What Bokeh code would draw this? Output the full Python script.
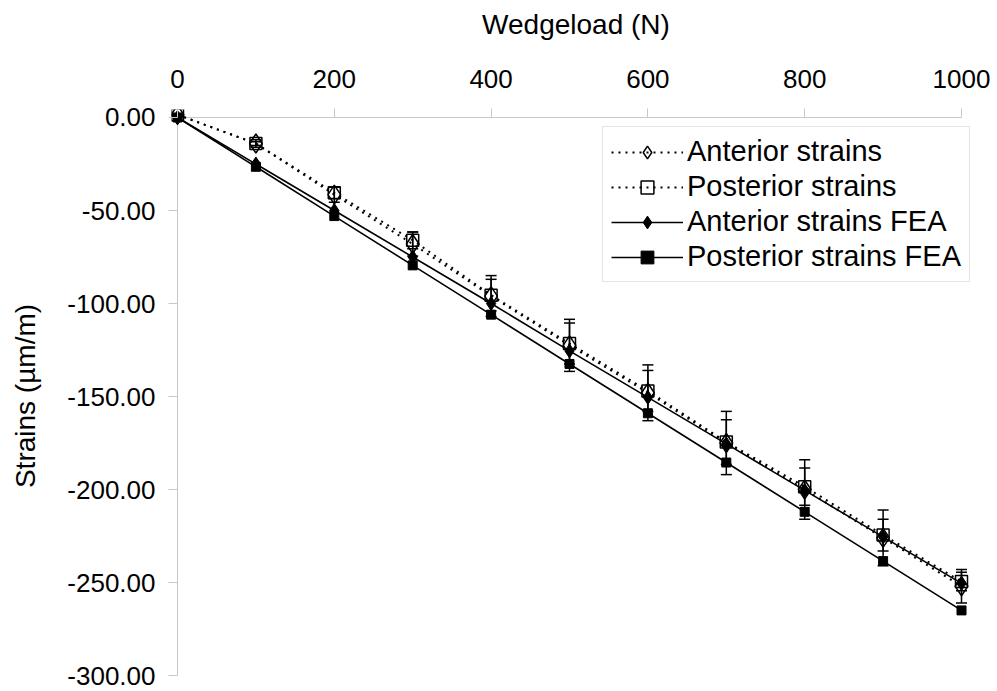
from bokeh.plotting import figure
from bokeh.models import (Range1d, FixedTicker, NumeralTickFormatter, Legend,
                          LegendItem, Whisker, ColumnDataSource, TeeHead)
from bokeh.embed import file_html
from bokeh.resources import INLINE

# ---- data ----
load = [0, 100, 200, 300, 400, 500, 600, 700, 800, 900, 1000]
anterior = [1.5, -14, -41.5, -68, -96, -122.5, -148, -175, -200, -226, -252]
posterior = [1.5, -14, -40.5, -66, -95.5, -121.5, -147, -174.5, -198.5, -224.5, -249.5]
anterior_err = [0, 2, 4, 6.5, 11, 14, 15, 17, 16, 15, 9]
posterior_err = [0, 1, 3, 4.5, 8.5, 11, 11, 12, 10, 8.5, 5]
anterior_fea = [0, -25, -50, -75, -100, -125.5, -150.5, -175.5, -200.5, -225.5, -250.5]
posterior_fea = [0, -26.5, -53, -79.5, -106, -132.5, -159, -185.5, -212, -238.5, -265]
x_ticks = [0, 200, 400, 600, 800, 1000]
y_ticks = [0, -50, -100, -150, -200, -250, -300]

FONT = "Liberation Sans"
AXIS_GRAY = "#c8c8c8"

# ranges are padded a little so that the markers at the ends are not clipped
p = figure(width=997, height=691, output_backend="svg", toolbar_location=None,
           x_axis_location="above",
           x_range=Range1d(-7.653, 1024.23), y_range=Range1d(-303.763, 4.301),
           min_border_left=171, min_border_right=17,
           min_border_top=109, min_border_bottom=9)
p.outline_line_color = None
p.grid.visible = False

# axis lines drawn at the data origin (x = 0 and y = 0)
p.segment(x0=[x_ticks[0]], y0=[y_ticks[0]], x1=[x_ticks[0]], y1=[y_ticks[-1]],
          line_color=AXIS_GRAY, line_width=1)
p.segment(x0=[x_ticks[0]], y0=[y_ticks[0]], x1=[x_ticks[-1]], y1=[y_ticks[0]],
          line_color=AXIS_GRAY, line_width=1)

for ax in (p.xaxis[0], p.yaxis[0]):
    ax.axis_line_color = None
    ax.major_tick_line_color = AXIS_GRAY
    ax.minor_tick_line_color = None
    ax.major_label_text_font = FONT
    ax.major_label_text_font_size = "26px"
    ax.major_label_text_color = "black"
    ax.axis_label_text_font = FONT
    ax.axis_label_text_font_size = "28px"
    ax.axis_label_text_font_style = "normal"
    ax.axis_label_text_color = "black"

p.xaxis.ticker = FixedTicker(ticks=x_ticks)
p.xaxis.axis_label = "Wedgeload (N)"
p.xaxis.major_tick_out = 1
p.xaxis.major_tick_in = 8
p.xaxis.major_label_standoff = 21
p.xaxis.axis_label_standoff = 27

p.yaxis.ticker = FixedTicker(ticks=y_ticks)
p.yaxis.formatter = NumeralTickFormatter(format="0.00")
p.yaxis.axis_label = "Strains (µm/m)"
p.yaxis.major_tick_out = 3
p.yaxis.major_tick_in = 6
p.yaxis.major_label_standoff = 13
p.yaxis.axis_label_standoff = 23

# error bars
src_a = ColumnDataSource(dict(x=load,
                              upper=[v + e for v, e in zip(anterior, anterior_err)],
                              lower=[v - e for v, e in zip(anterior, anterior_err)]))
src_p = ColumnDataSource(dict(x=load,
                              upper=[v + e for v, e in zip(posterior, posterior_err)],
                              lower=[v - e for v, e in zip(posterior, posterior_err)]))
for src in (src_a, src_p):
    w = Whisker(source=src, base="x", upper="upper", lower="lower", dimension="height",
                line_color="black", line_width=1.5,
                upper_head=TeeHead(size=11, line_color="black", line_width=1.5),
                lower_head=TeeHead(size=11, line_color="black", line_width=1.5))
    p.add_layout(w)

# FEA series
l_afea = p.line(load, anterior_fea, line_color="black", line_width=1.6)
m_afea = p.scatter(load, anterior_fea, marker="diamond", size=14,
                   fill_color="black", line_color="black")
l_pfea = p.line(load, posterior_fea, line_color="black", line_width=1.6)
m_pfea = p.scatter(load, posterior_fea, marker="square", size=9,
                   fill_color="black", line_color="black")

# experimental series
l_a = p.line(load, anterior, line_color="black", line_width=2, line_dash="2 5")
m_a = p.scatter(load, anterior, marker="diamond", size=19,
                fill_color=None, line_color="black", line_width=1.5)
l_p = p.line(load, posterior, line_color="black", line_width=2, line_dash="2 5")
m_p = p.scatter(load, posterior, marker="square", size=12,
                fill_color=None, line_color="black", line_width=1.5)

legend = Legend(items=[
    LegendItem(label="Anterior strains", renderers=[l_a, m_a]),
    LegendItem(label="Posterior strains", renderers=[l_p, m_p]),
    LegendItem(label="Anterior strains FEA", renderers=[l_afea, m_afea]),
    LegendItem(label="Posterior strains FEA", renderers=[l_pfea, m_pfea]),
], location=(431, 400))
legend.label_text_font = FONT
legend.label_text_font_size = "29px"
legend.label_text_color = "black"
legend.label_height = 32
legend.glyph_height = 32
legend.glyph_width = 72
legend.label_standoff = 4
legend.spacing = 2
legend.padding = 8
legend.margin = 0
legend.border_line_color = AXIS_GRAY
legend.border_line_width = 1
legend.background_fill_color = "white"
legend.background_fill_alpha = 1
p.add_layout(legend, "center")

open("out.html", "w").write(file_html(p, INLINE))
